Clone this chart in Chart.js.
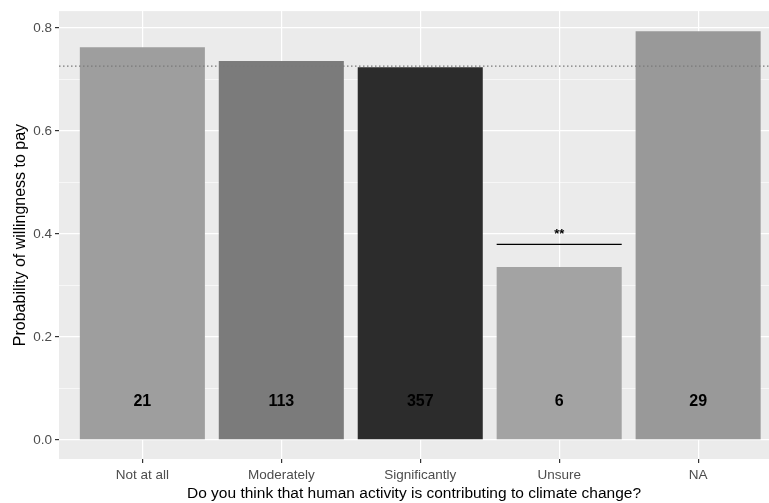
<!DOCTYPE html>
<html>
<head>
<meta charset="utf-8">
<script src="https://cdn.jsdelivr.net/npm/chart.js@4.4.1/dist/chart.umd.min.js"></script>
<style>
  html, body { margin: 0; padding: 0; background: #fff; }
</style>
</head>
<body>
<canvas id="chart" width="769" height="503"></canvas>
<script>
// --- data ---
const categories = ['Not at all', 'Moderately', 'Significantly', 'Unsure', 'NA'];
const probabilities = [0.763, 0.736, 0.724, 0.336, 0.794];
const counts = ['21', '113', '357', '6', '29'];
const barColors = ['#9e9e9e', '#7b7b7b', '#2c2c2c', '#a3a3a3', '#999999'];
const yTicks = [0, 0.1, 0.2, 0.3, 0.4, 0.5, 0.6, 0.7, 0.8];
const referenceLevel = 0.726;          // dotted line
const countLabelLevel = 0.074;         // where the n labels sit
const sigFrom = 3.55, sigTo = 4.45, sigLevel = 0.38, sigText = '**';

const FONT = "'Liberation Sans', Arial, sans-serif";

// grey panel behind everything, like ggplot's theme_grey
const panelBg = {
  id: 'panelBg',
  beforeDraw(chart) {
    const { ctx, chartArea: a } = chart;
    ctx.save();
    ctx.fillStyle = '#ebebeb';
    ctx.fillRect(a.left, a.top, a.right - a.left, a.bottom - a.top);
    ctx.restore();
  }
};

// count labels inside bars + significance stars
const annotations = {
  id: 'annotations',
  afterDatasetsDraw(chart) {
    const { ctx, scales: { x, y } } = chart;
    ctx.save();
    ctx.fillStyle = '#000';
    ctx.textAlign = 'center';
    ctx.textBaseline = 'middle';
    ctx.font = 'bold 16px ' + FONT;
    counts.forEach((n, i) => {
      ctx.fillText(n, x.getPixelForValue(i + 1), y.getPixelForValue(countLabelLevel));
    });
    ctx.font = 'bold 13px ' + FONT;
    ctx.fillText(sigText, x.getPixelForValue((sigFrom + sigTo) / 2), y.getPixelForValue(sigLevel) - 10);
    ctx.restore();
  }
};

const isMajor = v => Math.round(v * 10) % 2 === 0;

new Chart(document.getElementById('chart'), {
  data: {
    datasets: [
      {
        type: 'bar',
        data: probabilities.map((v, i) => ({ x: i + 1, y: v })),
        backgroundColor: barColors,
        barPercentage: 0.9,
        categoryPercentage: 1,
        order: 3
      },
      {
        type: 'line',
        data: [{ x: 0.4, y: referenceLevel }, { x: 5.51, y: referenceLevel }],
        borderColor: '#7a7a7a',
        borderWidth: 1.2,
        borderDash: [1.5, 2.5],
        pointRadius: 0,
        order: 1
      },
      {
        type: 'line',
        data: [{ x: sigFrom, y: sigLevel }, { x: sigTo, y: sigLevel }],
        borderColor: '#000',
        borderWidth: 1.2,
        pointRadius: 0,
        order: 1
      }
    ]
  },
  options: {
    responsive: false,
    animation: false,
    events: [],
    layout: { padding: { top: 11, right: 0, left: 0, bottom: 0 } },
    plugins: { legend: { display: false }, tooltip: { enabled: false } },
    scales: {
      x: {
        type: 'linear',
        min: 0.4,
        max: 5.51,
        offset: false,
        afterBuildTicks: s => { s.ticks = categories.map((c, i) => ({ value: i + 1 })); },
        afterFit: s => { s.height = 44; },
        border: { display: false },
        grid: { offset: false, color: '#ffffff', lineWidth: 1.2, tickColor: '#333333', tickLength: 4 },
        ticks: {
          autoSkip: false,
          maxRotation: 0,
          padding: 4,
          color: '#4d4d4d',
          font: { family: FONT, size: 13.5 },
          callback: v => categories[v - 1]
        },
        title: {
          display: true,
          text: 'Do you think that human activity is contributing to climate change?',
          color: '#000',
          font: { family: FONT, size: 15.5 },
          padding: { top: 0, bottom: 0 }
        }
      },
      y: {
        min: -0.037,
        max: 0.833,
        afterBuildTicks: s => { s.ticks = yTicks.map(v => ({ value: v })); },
        afterFit: s => { s.width = 59; },
        border: { display: false },
        grid: {
          color: '#ffffff',
          lineWidth: c => (c.tick && isMajor(c.tick.value) ? 1.2 : 0.6),
          tickColor: c => (c.tick && isMajor(c.tick.value) ? '#333333' : 'rgba(0,0,0,0)'),
          tickLength: 4
        },
        ticks: {
          padding: 3,
          color: '#4d4d4d',
          font: { family: FONT, size: 13.5 },
          callback: v => (isMajor(v) ? v.toFixed(1) : '')
        },
        title: {
          display: true,
          text: 'Probability of willingness to pay',
          color: '#000',
          font: { family: FONT, size: 16 },
          padding: { top: 11, bottom: 0 }
        }
      }
    }
  },
  plugins: [panelBg, annotations]
});
</script>
</body>
</html>
